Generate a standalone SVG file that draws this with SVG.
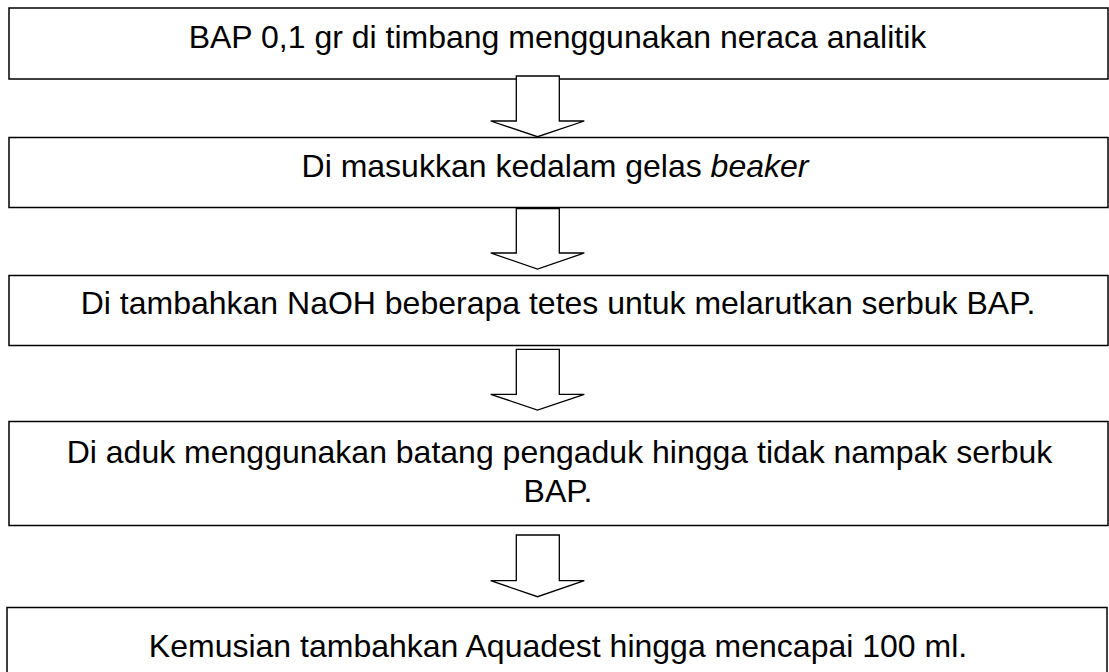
<svg xmlns="http://www.w3.org/2000/svg" width="1109" height="672" viewBox="0 0 1109 672">
<style>
.box{fill:#fff;stroke:#000;stroke-width:1.5}
.arr{fill:#fff;stroke:#000;stroke-width:1.3;stroke-linejoin:miter}
.t{font-family:"Liberation Sans",Arial,sans-serif;font-size:32px;fill:#000;text-anchor:middle}
</style>
<rect width="1109" height="672" fill="#fff"/>
<g id="node1">
<rect class="box" x="9" y="8" width="1099" height="71"/>
<text class="t" x="557.5" y="47.5">BAP 0,1 gr di timbang menggunakan neraca analitik</text>
</g>
<g id="node2">
<rect class="box" x="9" y="137.5" width="1099" height="70"/>
<text class="t" x="555" y="177.3">Di masukkan kedalam gelas <tspan font-style="italic">beaker</tspan></text>
</g>
<g id="node3">
<rect class="box" x="9" y="275.5" width="1099" height="70"/>
<text class="t" x="558" y="314.3">Di tambahkan NaOH beberapa tetes untuk melarutkan serbuk BAP.</text>
</g>
<g id="node4">
<rect class="box" x="9" y="421.5" width="1099" height="104"/>
<text class="t" x="559.5" y="462.7">Di aduk menggunakan batang pengaduk hingga tidak nampak serbuk</text>
<text class="t" x="558" y="501.7">BAP.</text>
</g>
<g id="node5">
<rect class="box" x="7" y="607.5" width="1100" height="90"/>
<text class="t" x="558" y="656.7">Kemusian tambahkan Aquadest hingga mencapai 100 ml.</text>
</g>
<g id="connectors">
<polygon class="arr" points="516.3,76 559.3,76 559.3,121 584.3,121 537.5,136.7 490.7,121 516.3,121"/>
<polygon class="arr" points="516.3,208.7 559.3,208.7 559.3,253 584.3,253 537.5,269 490.7,253 516.3,253"/>
<polygon class="arr" points="516.3,349.3 559.3,349.3 559.3,394.3 584.3,394.3 537.5,410 490.7,394.3 516.3,394.3"/>
<polygon class="arr" points="516.3,535 559.3,535 559.3,580.7 584.3,580.7 537.5,596.7 490.7,580.7 516.3,580.7"/>
</g>
</svg>
